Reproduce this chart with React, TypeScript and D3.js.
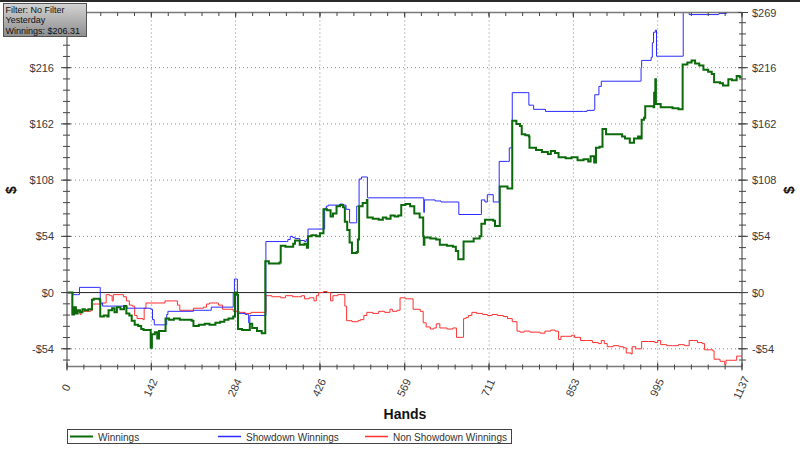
import React from "react";
import * as d3 from "d3";

const xTickValues = [0, 142, 284, 426, 569, 711, 853, 995, 1137];
const yTickValues = [-54, 0, 54, 108, 162, 216, 269];
const yTickLabels = ["-$54", "$0", "$54", "$108", "$162", "$216", "$269"];
const infoLines = ["Filter: No Filter", "Yesterday", "Winnings: $206.31"];
const seriesNames = ["Winnings", "Showdown Winnings", "Non Showdown Winnings"];
const seriesColors = ["#0b6b0b", "#2b2bff", "#ff3030"];

const winningsHands = [0,5,9,12,15,18,22,26,30,36,42,45,55,56,62,68,70,76,80,84,90,96,100,105,109,114,120,125,129,138,141,143,148,152,155,162,166,172,180,190,200,210,213,222,232,240,250,258,265,272,280,283,286,288,295,305,308,312,320,328,334,340,350,358,360,368,375,381,384,392,400,404,406,412,420,426,432,438,444,448,454,460,465,468,472,476,480,488,490,492,498,505,506,515,525,532,538,545,552,558,563,570,578,585,594,600,601,602,612,622,628,640,650,655,659,667,668,675,685,695,698,704,712,718,721,728,729,735,742,749,750,757,763,766,772,778,779,790,800,810,815,822,828,840,850,860,870,878,882,888,891,897,902,908,920,935,940,948,955,962,965,968,972,974,982,988,989,991,992,1000,1010,1020,1030,1037,1045,1052,1058,1065,1072,1080,1086,1090,1100,1105,1110,1114,1120,1128,1133,1137];
const winningsValues = [0,0,-21,-14,-20,-17,-19,-16,-17,-16,-7,-6,-7,-23,-22,-23,-17,-15,-19,-14,-16,-13,-20,-22,-27,-31,-32,-35,-36,-36,-53,-40,-38,-44,-37,-37,-25,-26,-25,-26,-26,-27,-32,-31,-30,-31,-29,-28,-26,-25,-23,0,-2,-35,-36,-36,-30,-34,-37,-39,30,28,28,29,45,44,44,47,50,46,47,43,54,55,54,57,80,79,73,76,83,84,82,68,60,48,38,39,51,83,86,89,72,71,70,72,71,74,73,74,84,85,83,76,72,54,46,53,52,51,46,45,44,40,32,32,49,49,52,54,66,70,70,69,64,64,102,102,100,100,165,162,160,152,151,150,139,137,135,133,136,134,130,129,130,127,128,126,131,125,139,140,157,152,152,150,148,144,148,150,148,166,168,179,179,178,192,205,181,178,178,177,176,219,221,223,220,218,214,212,210,202,201,199,199,205,204,208,207,206.31];

const showdownHands = [0,9,10,18,21,55,56,60,100,101,140,141,144,147,167,168,170,212,213,240,243,278,280,282,286,287,300,304,306,308,334,335,370,372,376,380,384,392,400,403,406,432,434,437,440,460,465,470,476,486,488,492,496,504,506,600,601,602,612,620,628,630,659,660,696,698,704,708,718,728,742,745,749,750,776,778,784,786,800,806,870,876,888,889,896,900,966,967,968,982,984,986,988,991,993,1037,1038,1047,1048,1097,1098,1111,1137];
const showdownValues = [0,0,-2,-2,5,5,-10,-13,-13,-15,-15,-16,-26,-31,-31,-21,-18,-18,-17,-17,-14,-14,0,13,13,-20,-21,-21,-29,-22,-22,49,49,51,54,53,52,50,49,51,61,61,81,83,84,85,84,80,67,67,83,109,111,111,91,91,77,89,89,88,88,87,87,75,75,89,87,94,87,126,126,139,139,192,192,180,180,176,176,174,174,175,176,190,198,203,203,216,223,223,226,240,250,252,227,227,269,269,267,267,268,269,269];

const nonShowdownHands = [0,8,9,20,22,24,40,43,55,60,66,72,76,78,90,95,100,105,110,114,118,128,130,133,160,165,180,186,190,210,213,230,235,240,250,255,262,270,280,290,300,310,334,335,345,360,368,380,390,395,400,408,412,416,420,424,432,438,444,448,456,465,468,471,480,490,494,500,505,515,525,535,544,548,556,561,570,580,583,595,600,605,612,618,622,628,640,650,656,666,668,672,676,682,690,700,708,716,725,735,742,750,758,763,770,780,790,797,805,815,822,828,832,840,850,855,865,875,885,895,900,905,910,920,930,937,942,950,952,958,968,980,990,995,1000,1010,1020,1030,1040,1048,1055,1062,1070,1074,1088,1090,1100,1108,1110,1127,1128,1137];
const nonShowdownValues = [0,0,-18,-18,-21,-18,-17,-11,-11,-10,-2,-3,-8,-2,-2,-4,-8,-12,-13,-22,-25,-26,-15,-10,-10,-8,-8,-12,-17,-17,-15,-14,-11,-10,-10,-12,-16,-16,-18,-19,-20,-19,-19,-3,-4,-5,-3,-4,-4,-3,-6,-5,-5,-8,-3,0,1,0,-8,-3,-2,-2,-13,-27,-28,-27,-26,-22,-19,-20,-18,-19,-16,-18,-17,-5,-6,-6,-16,-18,-29,-33,-35,-34,-30,-34,-35,-34,-43,-43,-25,-24,-22,-19,-20,-21,-22,-21,-22,-23,-25,-28,-37,-38,-37,-38,-38,-39,-37,-36,-37,-45,-42,-42,-41,-43,-46,-46,-48,-49,-46,-49,-52,-51,-52,-53,-58,-59,-52,-54,-47,-47,-48,-46,-50,-51,-51,-50,-51,-46,-46,-48,-49,-55,-56,-64,-66,-69,-65,-65,-61,-62.69];

const W = 800, H = 449;
const X0 = 67, X1 = 742, YT = 12.5, YB = 366.5;

export default function App() {
  const x = d3.scaleLinear().domain([0, 1137]).range([X0, X1]);
  const y = d3.scaleLinear().domain([-71, 269]).range([YB, YT]);

  const mk = (hs: number[], vs: number[]) =>
    d3.line<number>().x((_, i) => x(hs[i])).y((v) => y(v)).curve(d3.curveStepAfter)(vs) || "";

  const paths = [
    { d: mk(nonShowdownHands, nonShowdownValues), c: seriesColors[2], w: 1 },
    { d: mk(showdownHands, showdownValues), c: seriesColors[1], w: 1 },
    { d: mk(winningsHands, winningsValues), c: seriesColors[0], w: 2 },
  ];

  const minorX = d3.range(0, 41).map((i) => (i * 1137) / 40);
  const minorY = d3.range(-6, 25).map((i) => i * 10.8).filter((v) => v >= -71 && v <= 269);

  const font = "'Liberation Sans', Arial, sans-serif";
  const axisColor = "#7a7a7a";

  return (
    <svg width={W} height={H} style={{ position: "absolute", left: 0, top: 0, background: "#fff" }}
      fontFamily={font}>
      <defs>
        <linearGradient id="infoGrad" x1="0" y1="0" x2="0" y2="1">
          <stop offset="0" stopColor="#d4d4d4" />
          <stop offset="1" stopColor="#8e8e8e" />
        </linearGradient>
        <clipPath id="plotClip">
          <rect x={X0} y={YT - 2} width={X1 - X0} height={YB - YT + 4} />
        </clipPath>
      </defs>
      <rect x={0} y={0} width={W} height={H} fill="#fff" />
      <rect x={0} y={0} width={W} height={2} fill="#2a2a2a" />

      {/* grid */}
      {xTickValues.slice(1, -1).map((t) => (
        <line key={"gx" + t} x1={x(t)} x2={x(t)} y1={YT} y2={YB} stroke="#8a8a8a" strokeDasharray="1,3" />
      ))}
      {yTickValues.filter((t) => t !== 0 && t !== 269).map((t) => (
        <line key={"gy" + t} x1={X0} x2={X1} y1={y(t)} y2={y(t)} stroke="#8a8a8a" strokeDasharray="1,3" />
      ))}
      <line x1={X0} x2={X1} y1={y(0)} y2={y(0)} stroke="#222" strokeWidth={1} />

      {/* series */}
      <g clipPath="url(#plotClip)">
        {paths.map((p, i) => (
          <path key={i} d={p.d} fill="none" stroke={p.c} strokeWidth={p.w} strokeLinejoin="miter" />
        ))}
      </g>

      {/* axes */}
      <line x1={X0} x2={X0} y1={YT} y2={YB} stroke={axisColor} strokeWidth={1.5} />
      <line x1={X1} x2={X1} y1={YT} y2={YB} stroke={axisColor} strokeWidth={1.5} />
      <line x1={X0} x2={X1} y1={YB} y2={YB} stroke={axisColor} strokeWidth={1.5} />
      <line x1={X0} x2={X1} y1={YT} y2={YT} stroke={axisColor} strokeWidth={1.5} />

      {minorX.map((t, i) => (
        <g key={"mx" + i} stroke="#444">
          <line x1={x(t)} x2={x(t)} y1={YB - 2} y2={YB + 3} />
          <line x1={x(t)} x2={x(t)} y1={YT} y2={YT + 3.5} />
        </g>
      ))}
      {xTickValues.map((t) => (
        <g key={"Mx" + t} stroke="#444">
          <line x1={x(t)} x2={x(t)} y1={YB - 4} y2={YB + 4} />
          <line x1={x(t)} x2={x(t)} y1={YT} y2={YT + 5} />
        </g>
      ))}
      {minorY.map((t, i) => (
        <g key={"my" + i} stroke="#444">
          <line x1={X0 - 4} x2={X0 + 3} y1={y(t)} y2={y(t)} />
          <line x1={X1 - 3} x2={X1 + 4} y1={y(t)} y2={y(t)} />
        </g>
      ))}
      {yTickValues.map((t) => (
        <g key={"My" + t} stroke="#444">
          <line x1={X0 - 6} x2={X0 + 4} y1={y(t)} y2={y(t)} />
          <line x1={X1 - 4} x2={X1 + 6} y1={y(t)} y2={y(t)} />
        </g>
      ))}

      {/* y labels */}
      {yTickValues.map((t, i) => (
        <g key={"yl" + t} fontSize={11} fill="#3a3a3a">
          <text x={54} y={y(t) + 4} textAnchor="end">{yTickLabels[i]}</text>
          <text x={752} y={y(t) + 4} textAnchor="start">{yTickLabels[i]}</text>
        </g>
      ))}

      {/* x labels */}
      {xTickValues.map((t) => (
        <text key={"xl" + t} transform={`translate(${x(t)},388) rotate(-65)`} textAnchor="middle"
          dominantBaseline="middle" fontSize={11} fill="#3a3a3a">{t}</text>
      ))}

      <text x={405} y={419} textAnchor="middle" fontSize={14} fontWeight="bold" fill="#111">Hands</text>
      <text transform="translate(16,190) rotate(-90)" textAnchor="middle" fontSize={14} fontWeight="bold" fill="#111">$</text>
      <text transform="translate(794,190) rotate(-90)" textAnchor="middle" fontSize={14} fontWeight="bold" fill="#111">$</text>

      {/* legend */}
      <rect x={67.5} y={429.5} width={444} height={14} fill="#fff" stroke="#444" />
      {[70, 218, 365].map((lx, i) => (
        <g key={"lg" + i}>
          <line x1={lx} x2={lx + 23} y1={436.5} y2={436.5} stroke={seriesColors[i]} strokeWidth={i === 0 ? 2 : 1.5} />
          <text x={lx + 28} y={440.5} fontSize={10} fill="#333">{seriesNames[i]}</text>
        </g>
      ))}

      {/* info box */}
      <rect x={3.5} y={3.5} width={83} height={33} fill="url(#infoGrad)" stroke="#555" />
      <text x={5.5} y={12.8} fontSize={9} fill="#111">
        {infoLines.map((s, i) => (
          <tspan key={"il" + i} x={5.5} dy={i === 0 ? 0 : 10.6}>{s}</tspan>
        ))}
      </text>
    </svg>
  );
}
